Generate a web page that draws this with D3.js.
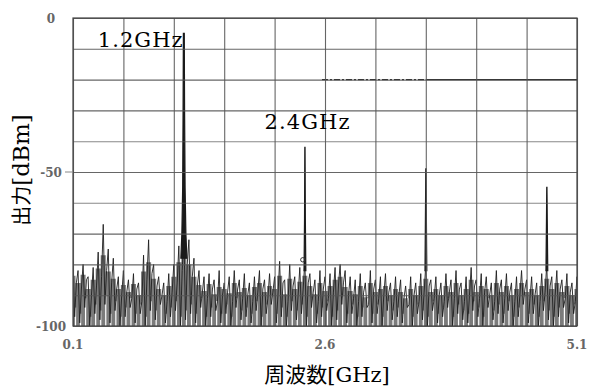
<!DOCTYPE html>
<html>
<head>
<meta charset="utf-8">
<script src="https://cdn.jsdelivr.net/npm/d3@7"></script>
<style>
  body { margin: 0; background: #fff; }
  svg { display: block; }
</style>
</head>
<body>
<script>
// axis settings
const xDomain = [0.1, 5.1];
const yDomain = [-100, 0];
const xLabelTicks = [0.1, 2.6, 5.1];
const yLabelTicks = [0, -50, -100];
const binStart = 0.1;
const binStep = 0.05;

// noise floor, one bin per 0.05 GHz
const noiseHi = [
  -79,-82,-80,-84,-81,-76,-67,-75,-78,-84,
  -82,-85,-83,-86,-77,-72,-80,-84,-86,-83,
  -80,-74,-70,-72,-78,-82,-84,-83,-85,-82,
  -86,-84,-82,-85,-83,-86,-84,-82,-85,-83,
  -84,-79,-85,-80,-84,-81,-79,-83,-85,-82,
  -84,-83,-81,-80,-82,-84,-85,-83,-86,-82,
  -85,-84,-83,-86,-84,-85,-87,-84,-86,-83,
  -80,-85,-84,-86,-83,-85,-82,-86,-84,-81,
  -85,-83,-84,-86,-82,-85,-83,-86,-84,-82,
  -85,-84,-86,-83,-80,-84,-82,-85,-83,-86,
  -84
];
const noiseLo = [
  -97,-99,-94,-100,-96,-98,-93,-99,-95,-100,
  -97,-94,-99,-96,-100,-95,-98,-93,-99,-97,
  -95,-100,-98,-96,-99,-94,-100,-97,-95,-99,
  -96,-100,-94,-98,-97,-99,-95,-100,-96,-93,
  -99,-97,-100,-95,-98,-96,-100,-94,-99,-97,
  -95,-100,-98,-93,-99,-96,-100,-97,-94,-99,
  -96,-100,-95,-98,-97,-99,-94,-100,-96,-98,
  -100,-95,-99,-97,-94,-100,-96,-98,-99,-95,
  -97,-100,-94,-98,-96,-99,-95,-100,-97,-93,
  -99,-96,-100,-95,-98,-100,-97,-94,-99,-96,
  -98
];
const noiseMid = [
  -86,-88,-85,-90,-87,-84,-82,-86,-88,-90,
  -89,-91,-88,-92,-85,-83,-87,-90,-92,-89,
  -86,-82,-80,-84,-87,-89,-91,-88,-92,-90,
  -89,-92,-88,-91,-90,-92,-89,-88,-91,-89,
  -90,-86,-92,-87,-90,-88,-86,-89,-92,-88,
  -91,-89,-87,-86,-90,-91,-92,-89,-93,-88,
  -91,-90,-89,-92,-90,-91,-93,-90,-92,-89,
  -87,-91,-90,-92,-89,-91,-88,-92,-90,-87,
  -91,-89,-90,-92,-88,-91,-89,-92,-90,-88,
  -91,-90,-92,-89,-87,-90,-88,-91,-89,-92,
  -90
];

// harmonic peaks
const peak1GHz = [1.17, 1.18, 1.188, 1.192, 1.195, 1.204, 1.207, 1.212, 1.22, 1.23];
const peak1Dbm = [-78, -70, -55, -30, -5, -5, -30, -55, -70, -78];
const peak2GHz = [2.392, 2.397, 2.4, 2.402, 2.405, 2.41];
const peak2Dbm = [-82, -65, -42, -42, -65, -82];
const peak3GHz = [3.592, 3.597, 3.6, 3.602, 3.605, 3.61];
const peak3Dbm = [-82, -62, -49, -49, -62, -82];
const peak4GHz = [4.792, 4.797, 4.8, 4.802, 4.805, 4.81];
const peak4Dbm = [-82, -66, -55, -55, -66, -82];

// limit line at -20 dBm
const limitDashGHz = [2.57, 3.6];
const limitSolidGHz = [3.6, 5.1];
const limitDbm = -20;

// marker and labels
const markerGHz = 2.38, markerDbm = -78.5;
const peakLabels = ["1.2GHz", "2.4GHz"];
const peakLabelGHz = [0.345, 2.0];
const peakLabelDbm = [-9.5, -36];

const W = 589, H = 388;
const margin = { top: 18, right: 12, bottom: 62, left: 73 };

const svg = d3.select("body").append("svg")
  .attr("width", W)
  .attr("height", H);

const x = d3.scaleLinear().domain(xDomain).range([margin.left, W - margin.right]);
const y = d3.scaleLinear().domain(yDomain).range([H - margin.bottom, margin.top]);

svg.append("clipPath").attr("id", "plot")
  .append("rect")
  .attr("x", x(xDomain[0])).attr("y", y(yDomain[1]))
  .attr("width", x(xDomain[1]) - x(xDomain[0]))
  .attr("height", y(yDomain[0]) - y(yDomain[1]));

// grid
const gridX = d3.range(0, 11).map(i => xDomain[0] + i * 0.5);
const gridY = d3.range(0, 11).map(i => -100 + i * 10);

const plot = svg.append("g").attr("clip-path", "url(#plot)");
const line = d3.line().x(d => x(d[0])).y(d => y(d[1]));

// noise trace: each bin goes high, low, mid
const trace = [];
noiseHi.forEach((hi, i) => {
  const f = binStart + i * binStep;
  trace.push([f, hi]);
  trace.push([f + binStep / 3, noiseLo[i]]);
  trace.push([f + 2 * binStep / 3, noiseMid[i]]);
});

// dense band under the trace
const band = d3.area()
  .curve(d3.curveStep)
  .x((d, i) => x(binStart + i * binStep))
  .y0(y(-100))
  .y1((d, i) => y((noiseHi[i] + 2 * noiseMid[i]) / 3));

plot.append("path")
  .datum(noiseHi)
  .attr("d", band)
  .attr("fill", "#5a5a5a")
  .attr("fill-opacity", 0.8);

// white gaps rising from the bottom
plot.append("g").selectAll("line")
  .data(noiseLo)
  .join("line")
  .attr("x1", (d, i) => x(binStart + (i + 0.5) * binStep))
  .attr("x2", (d, i) => x(binStart + (i + 0.5) * binStep))
  .attr("y1", y(-100))
  .attr("y2", d => y(d + 3))
  .attr("stroke", "#fff")
  .attr("stroke-width", 1.2);

plot.append("path")
  .datum(trace)
  .attr("d", line)
  .attr("fill", "none")
  .attr("stroke", "#1e1e1e")
  .attr("stroke-width", 1)
  .attr("stroke-opacity", 0.9);

svg.append("g")
  .attr("transform", `translate(0,${y(-100)})`)
  .call(d3.axisBottom(x).tickValues(gridX).tickSize(-(y(-100) - y(0))).tickFormat(""))
  .call(g => g.select(".domain").remove())
  .call(g => g.selectAll("line").attr("stroke", "#555").attr("stroke-width", 1.1).attr("stroke-opacity", 0.9));

svg.append("g")
  .attr("transform", `translate(${x(xDomain[0])},0)`)
  .call(d3.axisLeft(y).tickValues(gridY).tickSize(-(x(xDomain[1]) - x(xDomain[0]))).tickFormat(""))
  .call(g => g.select(".domain").remove())
  .call(g => g.selectAll("line")
    .attr("stroke", "#555")
    .attr("stroke-width", 1.1)
    .attr("stroke-opacity", d => (d === -40 || d === -60) ? 0.7 : 0.9));

[[peak1GHz, peak1Dbm], [peak2GHz, peak2Dbm], [peak3GHz, peak3Dbm], [peak4GHz, peak4Dbm]].forEach(([fs, ds]) => {
  plot.append("path")
    .datum(fs.map((f, i) => [f, ds[i]]))
    .attr("d", d => line(d) + "Z")
    .attr("fill", "#1a1a1a")
    .attr("stroke", "#1a1a1a")
    .attr("stroke-width", 1.2);
});

plot.append("circle")
  .attr("cx", x(markerGHz)).attr("cy", y(markerDbm))
  .attr("r", 2.2)
  .attr("fill", "none")
  .attr("stroke", "#333");

// limit line
plot.append("line")
  .attr("x1", x(limitDashGHz[0])).attr("x2", x(limitDashGHz[1]))
  .attr("y1", y(limitDbm)).attr("y2", y(limitDbm))
  .attr("stroke", "#222").attr("stroke-width", 1.3)
  .attr("stroke-dasharray", "6,2,2,2");
plot.append("line")
  .attr("x1", x(limitSolidGHz[0])).attr("x2", x(limitSolidGHz[1]))
  .attr("y1", y(limitDbm)).attr("y2", y(limitDbm))
  .attr("stroke", "#222").attr("stroke-width", 1.3);

// frame
svg.append("rect")
  .attr("x", x(xDomain[0])).attr("y", y(yDomain[1]))
  .attr("width", x(xDomain[1]) - x(xDomain[0]))
  .attr("height", y(yDomain[0]) - y(yDomain[1]))
  .attr("fill", "none")
  .attr("stroke", "#444")
  .attr("stroke-width", 1.2);

// small tick at -50
svg.append("line")
  .attr("x1", x(xDomain[0]) - 8).attr("x2", x(xDomain[0]))
  .attr("y1", y(-50)).attr("y2", y(-50))
  .attr("stroke", "#888");

// tick labels
svg.append("g").selectAll("text")
  .data(yLabelTicks)
  .join("text")
  .attr("x", 51)
  .attr("y", d => y(d) + 1)
  .attr("text-anchor", "middle")
  .attr("dominant-baseline", "middle")
  .style("font-family", "DejaVu Serif")
  .style("font-weight", "bold")
  .style("font-size", "12px")
  .style("fill", "#666")
  .text(d => d);

svg.append("g").selectAll("text")
  .data(xLabelTicks)
  .join("text")
  .attr("x", d => x(d))
  .attr("y", y(-100) + 23)
  .attr("text-anchor", "middle")
  .style("font-family", "DejaVu Serif")
  .style("font-weight", "bold")
  .style("font-size", "12px")
  .style("fill", "#666")
  .text(d => d.toFixed(1));

// peak labels
svg.append("g").selectAll("text")
  .data(peakLabels)
  .join("text")
  .attr("x", (d, i) => x(peakLabelGHz[i]))
  .attr("y", (d, i) => y(peakLabelDbm[i]))
  .attr("text-anchor", "start")
  .attr("textLength", 85)
  .style("font-family", "DejaVu Serif")
  .style("font-size", "21px")
  .style("fill", "#000")
  .text(d => d);

// axis titles
const xTitle = svg.append("text")
  .attr("x", (x(xDomain[0]) + x(xDomain[1])) / 2 + 2)
  .attr("y", H - 6)
  .attr("text-anchor", "middle")
  .style("fill", "#000");
xTitle.append("tspan").style("font-family", "Noto Sans CJK JP").style("font-size", "21px").text("周波数");
xTitle.append("tspan").style("font-family", "DejaVu Serif").style("font-size", "21px").text("[GHz]");

const yTitle = svg.append("text")
  .attr("transform", `translate(29,${(y(0) + y(-100)) / 2 - 2}) rotate(-90)`)
  .attr("text-anchor", "middle")
  .style("fill", "#000");
yTitle.append("tspan").style("font-family", "Noto Sans CJK JP").style("font-size", "20px").text("出力");
yTitle.append("tspan").style("font-family", "DejaVu Serif").style("font-size", "23px").text("[dBm]");
</script>
</body>
</html>
